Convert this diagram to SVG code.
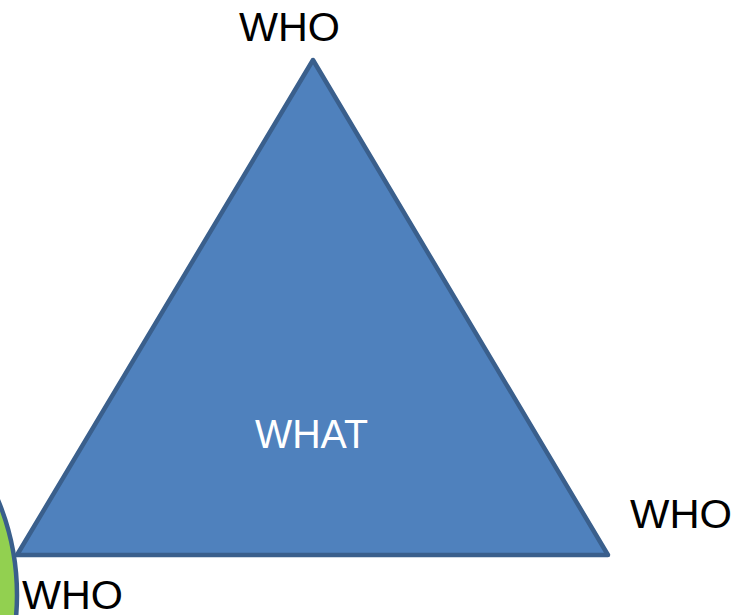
<svg xmlns="http://www.w3.org/2000/svg" width="748" height="615" viewBox="0 0 748 615">
  <style>
    .label { font-family: "Liberation Sans", Arial, sans-serif; font-size: 41px; fill: #000; }
    .inner { font-family: "Liberation Sans", Arial, sans-serif; font-size: 41px; fill: #fff; }
    .shape-edge { stroke: #3a5f8c; stroke-width: 4.5; stroke-linejoin: round; }
  </style>
  <rect width="748" height="615" fill="#fff"/>
  <g id="circle-node">
    <circle cx="-230" cy="595" r="247" fill="#92d050" class="shape-edge"/>
  </g>
  <g id="triangle-node">
    <polygon points="313,60 17,555 608,555" fill="#4f81bd" class="shape-edge"/>
    <text class="inner" x="255" y="448" textLength="113" lengthAdjust="spacingAndGlyphs">WHAT</text>
  </g>
  <g id="who-top">
    <text class="label" x="239" y="41" textLength="101" lengthAdjust="spacingAndGlyphs">WHO</text>
  </g>
  <g id="who-right">
    <text class="label" x="630" y="528" textLength="102" lengthAdjust="spacingAndGlyphs">WHO</text>
  </g>
  <g id="who-bottom">
    <text class="label" x="22" y="609" textLength="101" lengthAdjust="spacingAndGlyphs">WHO</text>
  </g>
  <g id="connectors"/>
</svg>
